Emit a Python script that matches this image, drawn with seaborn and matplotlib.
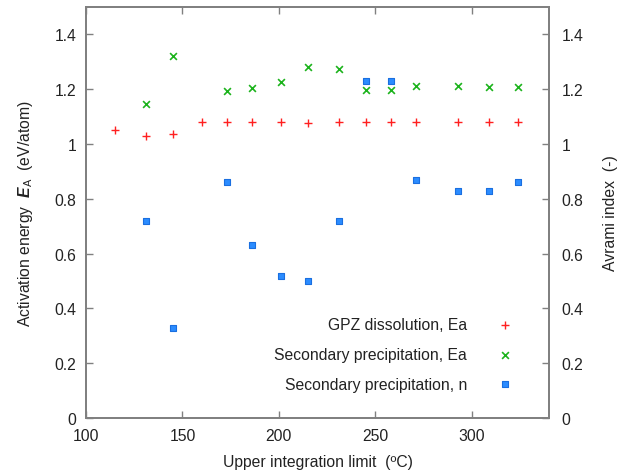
import matplotlib
matplotlib.use("Agg")
import matplotlib.pyplot as plt
import seaborn as sns
import pandas as pd

# Upper integration limit (°C) for each analysis
temp_gpz = [115, 131, 145, 160, 173, 186, 201, 215, 231, 245, 258, 271, 293, 309, 324]
ea_gpz = [1.05, 1.03, 1.035, 1.08, 1.08, 1.082, 1.079, 1.076, 1.08, 1.08, 1.08, 1.08, 1.08, 1.08, 1.08]

temp_sec = [131, 145, 173, 186, 201, 215, 231, 245, 258, 271, 293, 309, 324]
ea_sec = [1.147, 1.32, 1.193, 1.205, 1.225, 1.282, 1.272, 1.197, 1.197, 1.21, 1.211, 1.208, 1.207]
n_sec = [0.72, 0.33, 0.86, 0.63, 0.52, 0.50, 0.72, 1.23, 1.23, 0.87, 0.83, 0.83, 0.86]

labels = ["GPZ dissolution, Ea", "Secondary precipitation, Ea", "Secondary precipitation, n"]
y_ticks = [0, 0.2, 0.4, 0.6, 0.8, 1, 1.2, 1.4]
y_tick_labels = ["0", "0.2", "0.4", "0.6", "0.8", "1", "1.2", "1.4"]
x_ticks = [100, 150, 200, 250, 300]

sns.set_style("white")
plt.rcParams["font.family"] = ["Liberation Sans", "DejaVu Sans"]
plt.rcParams["mathtext.fontset"] = "custom"
plt.rcParams["mathtext.rm"] = "Liberation Sans"
plt.rcParams["mathtext.it"] = "Liberation Sans:italic:bold"

frame_col = "#808080"
text_col = "#222222"
fs = 11.3

fig = plt.figure(figsize=(6.28, 4.77), dpi=100)
ax = fig.add_axes([86 / 628, 1 - 419 / 477, (549 - 86) / 628, (419 - 8) / 477])
ax2 = ax.twinx()

df_gpz = pd.DataFrame({"T": temp_gpz, "Ea": ea_gpz})
df_sec = pd.DataFrame({"T": temp_sec, "Ea": ea_sec, "n": n_sec})

sns.scatterplot(data=df_gpz, x="T", y="Ea", ax=ax, marker="+", color="#ff2020",
                s=32, linewidth=1.0, label=labels[0], legend=False, zorder=3)
sns.scatterplot(data=df_sec, x="T", y="Ea", ax=ax, marker="x", color="#1cb31c",
                s=24, linewidth=1.2, label=labels[1], legend=False, zorder=3)
sns.scatterplot(data=df_sec, x="T", y="n", ax=ax2, marker="s", color="#2b8cff",
                edgecolor="#1a6fe0", s=22, linewidth=0.8, label=labels[2],
                legend=False, zorder=3)

for a in (ax, ax2):
    a.set_xlim(100, 340)
    a.set_ylim(0, 1.5)
    a.set_yticks(y_ticks)
    a.set_yticklabels(y_tick_labels)
    for sp in a.spines.values():
        sp.set_visible(True)
        sp.set_color(frame_col)
        sp.set_linewidth(1.3)

ax.set_xticks(x_ticks)
ax.tick_params(axis="both", direction="in", length=5, width=1.0, color=frame_col,
               labelsize=fs, labelcolor=text_col, pad=7, top=True, bottom=True,
               left=True, right=False)
ax2.tick_params(axis="y", direction="in", length=5, width=1.0, color=frame_col,
                labelsize=fs, labelcolor=text_col, pad=9, right=True, left=False)

ax.set_xlabel("Upper integration limit  (ºC)", fontsize=fs, color=text_col, labelpad=8)
ax.set_ylabel(r"Activation energy  $\mathit{E}_{\mathrm{A}}$  (eV/atom)",
              fontsize=fs, color=text_col, labelpad=14)
ax2.set_ylabel("Avrami index  (-)", fontsize=fs, color=text_col, labelpad=14)

h1, l1 = ax.get_legend_handles_labels()
h2, l2 = ax2.get_legend_handles_labels()
leg = ax2.legend(h1 + h2, l1 + l2, loc="lower right", bbox_to_anchor=(0.955, 0.03),
                 frameon=False, markerfirst=False, fontsize=fs, labelspacing=0.95,
                 handletextpad=1.8, handlelength=1.2)
for t in leg.get_texts():
    t.set_color(text_col)

fig.savefig("out.png", dpi=100, facecolor="white")
